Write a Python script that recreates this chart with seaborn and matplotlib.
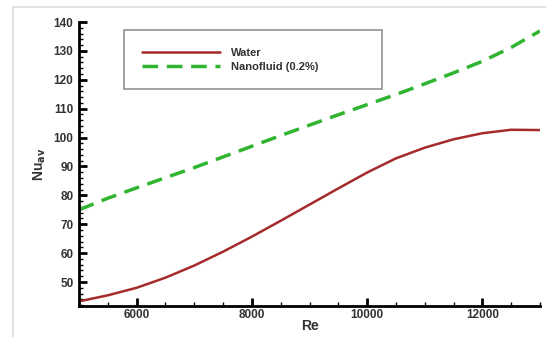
import numpy as np
import pandas as pd
import matplotlib
matplotlib.use("Agg")
import matplotlib.pyplot as plt
import seaborn as sns
from matplotlib.ticker import MultipleLocator
from matplotlib.patches import Rectangle

re_vals = [5000, 5500, 6000, 6500, 7000, 7500, 8000, 8500, 9000, 9500,
           10000, 10500, 11000, 11500, 12000, 12500, 13000]
water = [43.3, 45.4, 48.0, 51.5, 55.7, 60.5, 65.7, 71.2, 76.8, 82.4,
         87.9, 92.8, 96.5, 99.4, 101.5, 102.7, 102.6]
nano = [75.0, 79.0, 82.6, 86.1, 89.6, 93.3, 97.0, 100.7, 104.3, 107.9,
        111.4, 114.9, 118.6, 122.4, 126.4, 131.2, 136.9]
series_names = ["Water", "Nanofluid (0.2%)"]
x_ticks = [6000, 8000, 10000, 12000]
y_ticks = [50, 60, 70, 80, 90, 100, 110, 120, 130, 140]

df = pd.concat([
    pd.DataFrame({"Re": re_vals, "Nu": water, "fluid": series_names[0]}),
    pd.DataFrame({"Re": re_vals, "Nu": nano, "fluid": series_names[1]}),
])

sns.set_theme(style="white")
plt.rcParams['font.family'] = ['Liberation Sans', 'DejaVu Sans']

fig = plt.figure(figsize=(5.46, 3.37), dpi=100)
ax = fig.add_axes([0.1447, 0.092, 0.8443, 0.8427])

# light frame around the figure
fig.patches.append(Rectangle((13/546, -0.01), 1.0, 1 - 7/337 + 0.01,
                             transform=fig.transFigure, fill=False,
                             edgecolor="#dcdcdc", linewidth=1.2))

palette = {series_names[0]: "#a52a2a", series_names[1]: "#2fb52f"}
sns.lineplot(data=df[df.fluid == series_names[0]], x="Re", y="Nu", ax=ax,
             color=palette[series_names[0]], linewidth=1.8, label=series_names[0])
sns.lineplot(data=df[df.fluid == series_names[1]], x="Re", y="Nu", ax=ax,
             color=palette[series_names[1]], linewidth=2.5, linestyle=(0, (4.5, 2.5)),
             label=series_names[1])

ax.set_xlim(5000, 13000)
ax.set_ylim(41.7, 140)
ax.set_xticks(x_ticks)
ax.set_yticks(y_ticks)
ax.xaxis.set_minor_locator(MultipleLocator(500))
ax.yaxis.set_minor_locator(MultipleLocator(2))

for s in ["top", "right"]:
    ax.spines[s].set_visible(False)
for s in ["left", "bottom"]:
    ax.spines[s].set_color("black")
    ax.spines[s].set_linewidth(2.0)

ax.tick_params(axis="both", which="major", direction="in", length=6, width=2,
               color="black", labelsize=8.5, labelcolor="#333333")
ax.tick_params(axis="x", which="major", pad=2)
ax.tick_params(axis="y", which="major", pad=4)
ax.tick_params(axis="both", which="minor", direction="in", length=3, width=1,
               color="black")
ax.tick_params(axis="y", which="both", left=True)
ax.tick_params(axis="x", which="both", bottom=True)
for lab in ax.get_xticklabels() + ax.get_yticklabels():
    lab.set_fontweight("bold")

ax.set_xlabel("Re", fontsize=10, fontweight="bold", color="#333333", labelpad=-1)
ax.set_ylabel(r"Nu$_{\mathbf{av}}$", fontsize=10, fontweight="bold", color="#333333", labelpad=4)

leg = ax.legend(loc="upper left", bbox_to_anchor=(0.0976, 0.972, 0.56, 0.0),
                mode="expand", borderaxespad=0, frameon=True, fancybox=False,
                handlelength=7, handletextpad=1.0, borderpad=1.6,
                labelspacing=0.35, prop={"size": 8, "weight": "bold"})
leg.get_frame().set_edgecolor("#777777")
leg.get_frame().set_linewidth(1.2)
for t in leg.get_texts():
    t.set_color("#333333")

fig.savefig("out.png", dpi=100)
